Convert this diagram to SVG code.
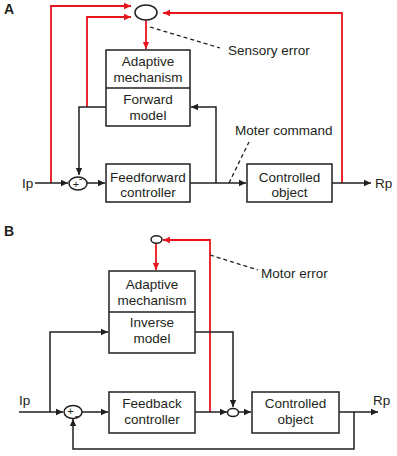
<svg xmlns="http://www.w3.org/2000/svg" width="397" height="456" viewBox="0 0 397 456">
<defs>
<marker id="ab" markerWidth="8" markerHeight="8" refX="7" refY="4" orient="auto" markerUnits="userSpaceOnUse"><path d="M0,0.8 L7,4 L0,7.2 Z" fill="#231f20"/></marker>
<marker id="ar" markerWidth="8" markerHeight="8" refX="7" refY="4" orient="auto" markerUnits="userSpaceOnUse"><path d="M0,0.8 L7,4 L0,7.2 Z" fill="#e8141c"/></marker>
</defs>
<style>
.box{fill:#fff;stroke:#231f20;stroke-width:1.5}
.bl{fill:none;stroke:#231f20;stroke-width:1.5}
.rd{fill:none;stroke:#e8141c;stroke-width:1.8}
.ds{fill:none;stroke:#231f20;stroke-width:1.3;stroke-dasharray:4 3}
text{font-family:"Liberation Sans",Arial,sans-serif;font-size:13.5px;fill:#231f20}
.c{text-anchor:middle}
.lab{font-weight:bold;font-size:14px}
.sg{font-size:11px}
</style>
<g id="connectors">
<!-- Panel A -->
<path class="rd" d="M51,183 V6 H131" marker-end="url(#ar)"/>
<path class="rd" d="M87,107 V17 H131" marker-end="url(#ar)"/>
<path class="rd" d="M342,183 V13 H163" marker-end="url(#ar)"/>
<path class="rd" d="M146,20 V49" marker-end="url(#ar)"/>
<path class="bl" d="M106,107 H79 V175" marker-end="url(#ab)"/>
<path class="bl" d="M35,183 H68" marker-end="url(#ab)"/>
<path class="bl" d="M87,183 H105" marker-end="url(#ab)"/>
<path class="bl" d="M190,183 H246" marker-end="url(#ab)"/>
<path class="bl" d="M216,183 V107 H191" marker-end="url(#ab)"/>
<path class="bl" d="M332,183 H371" marker-end="url(#ab)"/>
<path class="ds" d="M229,183 L249,142"/>
<path class="ds" d="M150,27 L220,48"/>
<!-- Panel B -->
<path class="rd" d="M210,412 V240 H163" marker-end="url(#ar)"/>
<path class="rd" d="M156,243 V270" marker-end="url(#ar)"/>
<path class="bl" d="M50,412 V332 H108" marker-end="url(#ab)"/>
<path class="bl" d="M195,332 H233 V407" marker-end="url(#ab)"/>
<path class="bl" d="M19,412 H63" marker-end="url(#ab)"/>
<path class="bl" d="M82,412 H108" marker-end="url(#ab)"/>
<path class="bl" d="M195,412 H227" marker-end="url(#ab)"/>
<path class="bl" d="M238,412 H251" marker-end="url(#ab)"/>
<path class="bl" d="M339,412 H378" marker-end="url(#ab)"/>
<path class="bl" d="M354,412 V449 H73 V419" marker-end="url(#ab)"/>
<path class="ds" d="M210,255 L258,270"/>
</g>
<text class="lab" x="4" y="14">A</text>
<text class="lab" x="4" y="236">B</text>
<g id="sensory-comparator"><ellipse cx="146" cy="12.5" rx="11" ry="7.5" fill="#fff" stroke="#231f20" stroke-width="1.5"/></g>
<g id="adaptive-forward">
<rect class="box" x="106" y="50" width="84" height="76"/>
<line class="bl" x1="106" y1="88" x2="190" y2="88"/>
<text class="c" x="148" y="66">Adaptive</text>
<text class="c" x="148" y="82">mechanism</text>
<text class="c" x="148" y="104">Forward</text>
<text class="c" x="148" y="120">model</text>
</g>
<g id="summer-a">
<ellipse cx="78" cy="183.5" rx="9" ry="6.5" fill="#fff" stroke="#231f20" stroke-width="1.5"/>
<text class="sg c" x="76" y="187.5">+</text>
<text class="sg c" x="80.5" y="182">-</text>
</g>
<g id="feedforward-controller">
<rect class="box" x="106" y="164" width="84" height="38"/>
<text class="c" x="148" y="182">Feedforward</text>
<text class="c" x="148" y="197">controller</text>
</g>
<g id="controlled-object-a">
<rect class="box" x="247" y="164" width="85" height="38"/>
<text class="c" x="289.5" y="182">Controlled</text>
<text class="c" x="289.5" y="197">object</text>
</g>
<text x="22" y="188">Ip</text>
<text x="375" y="188">Rp</text>
<text x="235" y="135">Moter command</text>
<text x="228" y="55">Sensory error</text>
<g id="motor-comparator"><ellipse cx="156.5" cy="239.5" rx="5.5" ry="3.8" fill="#fff" stroke="#231f20" stroke-width="1.5"/></g>
<g id="adaptive-inverse">
<rect class="box" x="109" y="271" width="86" height="82"/>
<line class="bl" x1="109" y1="312" x2="195" y2="312"/>
<text class="c" x="152" y="289">Adaptive</text>
<text class="c" x="152" y="305">mechanism</text>
<text class="c" x="152" y="327">Inverse</text>
<text class="c" x="152" y="343">model</text>
</g>
<g id="summer-b">
<ellipse cx="73" cy="412" rx="9" ry="6.5" fill="#fff" stroke="#231f20" stroke-width="1.5"/>
<text class="sg c" x="70.5" y="414.5">+</text>
<text class="sg c" x="76.5" y="419">-</text>
</g>
<g id="feedback-controller">
<rect class="box" x="109" y="392" width="86" height="41"/>
<text class="c" x="152" y="408">Feedback</text>
<text class="c" x="152" y="424">controller</text>
</g>
<g id="summer-b2"><ellipse cx="233" cy="412.5" rx="5.5" ry="4" fill="#fff" stroke="#231f20" stroke-width="1.5"/></g>
<g id="controlled-object-b">
<rect class="box" x="252" y="392" width="87" height="41"/>
<text class="c" x="295.5" y="408">Controlled</text>
<text class="c" x="295.5" y="424">object</text>
</g>
<text x="19" y="405">Ip</text>
<text x="373" y="405">Rp</text>
<text x="261" y="278">Motor error</text>
</svg>
